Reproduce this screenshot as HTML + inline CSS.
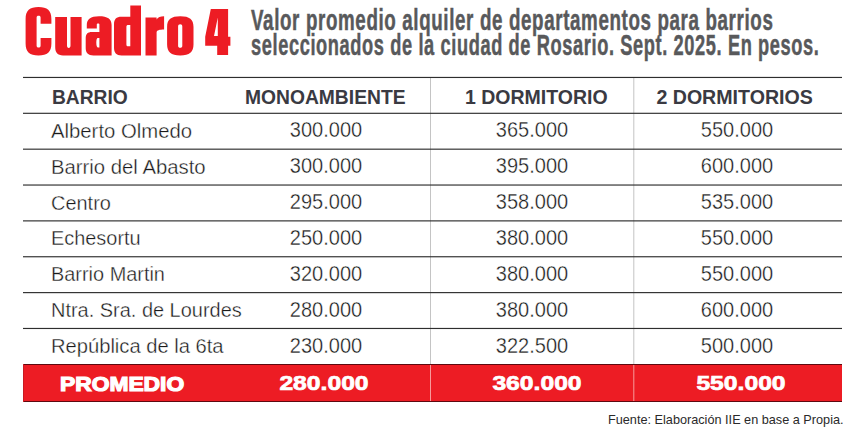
<!DOCTYPE html>
<html><head><meta charset="utf-8">
<style>
html,body{margin:0;padding:0;background:#fff;}
body{width:867px;height:436px;position:relative;overflow:hidden;font-family:"Liberation Sans",sans-serif;}
.a{position:absolute;white-space:nowrap;line-height:1;}
.sub{left:251px;font-size:30px;font-weight:bold;color:#58595b;transform-origin:0 0;-webkit-text-stroke:0.5px #58595b;letter-spacing:1px;}
.hd{font-size:19.6px;font-weight:bold;color:#3a3a42;}
.nm{font-size:20.5px;color:#1a1a1a;-webkit-text-stroke:0.35px #fff;transform-origin:0 0;transform:scaleX(0.99);}
.num{font-size:21.3px;color:#1a1a1a;-webkit-text-stroke:0.35px #fff;transform:translateX(-50%) scaleX(0.94);}
.pr{font-size:20px;font-weight:bold;color:#fff;-webkit-text-stroke:1.2px #fff;transform-origin:0 0;transform:scaleX(1.14);}
.pn{font-size:20.4px;font-weight:bold;color:#fff;-webkit-text-stroke:0.7px #fff;transform:translateX(-50%) scaleX(1.21);}
.foot{font-size:12.7px;color:#2a2a2a;}
</style></head><body>

<svg width="240" height="64" viewBox="0 0 240 64" style="position:absolute;left:0;top:0">
<g fill="#ed1c24" fill-rule="evenodd">
<path d="M51.4,23.8 L51.4,19 C51.4,10.5 47.3,7.1 38.5,7.1 C29.7,7.1 25.6,10.5 25.6,19 L25.6,43.5 C25.6,52 29.7,55.5 38.5,55.5 C47.3,55.5 51.4,52 51.4,43.5 L51.4,38 L40.6,38 L40.6,45.4 C40.6,46.8 39.9,47.4 38.6,47.4 C37.3,47.4 36.6,46.8 36.6,45.4 L36.6,17.8 C36.6,16.4 37.3,15.8 38.6,15.8 C39.9,15.8 40.6,16.4 40.6,17.8 L40.6,23.8 Z"/>
<path d="M55.2,16.9 L67,16.9 L67,45.6 C67,47.1 67.6,47.9 68.75,47.9 C69.9,47.9 70.5,47.1 70.5,45.6 L70.5,16.9 L81.6,16.9 L81.6,55.4 L63,55.4 C57.5,55.4 55.2,52.5 55.2,47 Z"/>
<path d="M86.8,28.4 L86.8,25 C86.8,19 90.5,16.2 99,16.2 C107.5,16.2 111.6,18.8 111.6,25 L111.6,55.4 L93.5,55.4 C88,55.4 85.7,52.8 85.7,48 L85.7,38.5 C85.7,34 87.5,32 92,32 L99.4,32 L99.4,24.5 C99.4,23.8 99,23.6 98.1,23.6 C97.2,23.6 96.8,23.8 96.8,24.5 L96.8,28.4 Z M99.4,37.9 L97.8,37.9 C96.8,37.9 96.3,39.5 96.3,42.6 C96.3,45.6 96.8,47.4 97.8,47.4 L99.4,47.4 Z"/>
<path d="M130.3,5.6 L141,5.6 L141,55.4 L121.5,55.4 C116.3,55.4 114,52.8 114,47.5 L114,24.5 C114,19.2 116.3,16.8 121.5,16.8 L130.3,16.8 Z M130.3,25.1 L128.2,25.1 C127,25.1 126.4,25.7 126.4,27 L126.4,44.4 C126.4,45.7 127,46.3 128.2,46.3 L130.3,46.3 Z"/>
<path d="M145.5,17.4 L156.6,17.4 L156.6,19.5 C158,17.2 160.3,16.3 164.1,16.3 L164.1,29.5 C159.5,29.5 156.6,30.2 156.6,32.5 L156.6,55.4 L145.5,55.4 Z"/>
<path d="M167.1,27 C167.1,19.5 171,16.3 180.3,16.3 C189.6,16.3 193.5,19.5 193.5,27 L193.5,44.6 C193.5,52.1 189.6,55.5 180.3,55.5 C171,55.5 167.1,52.1 167.1,44.6 Z M178.1,26.4 L178.1,45.7 C178.1,47.1 178.9,47.8 180.2,47.8 C181.5,47.8 182.3,47.1 182.3,45.7 L182.3,26.4 C182.3,25 181.5,24.3 180.2,24.3 C178.9,24.3 178.1,25 178.1,26.4 Z"/>
<path d="M210.8,9.1 L228.1,9.1 L228.1,36.7 L230.4,36.7 L230.4,45.7 L228.1,45.7 L228.1,54.9 L217.2,54.9 L217.2,45.7 L205.2,45.7 L205.2,36.7 Z M217.8,17.5 L214,36.1 L217.8,36.1 Z"/>
</g></svg>

<div class="a sub" style="top:4.5px;transform:scaleX(0.6258)">Valor promedio alquiler de departamentos para barrios</div>
<div class="a sub" style="top:30.2px;transform:scaleX(0.6078)">seleccionados de la ciudad de Rosario. Sept. 2025. En pesos.</div>
<svg width="867" height="436" style="position:absolute;left:0;top:0">
<rect x="430" y="77" width="1" height="287" fill="#c4c4c4"/>
<rect x="633.3" y="77" width="1" height="287" fill="#c4c4c4"/>
<rect x="23" y="76.88" width="819" height="1.15" fill="#2e2e2e"/>
<rect x="23" y="112.73" width="819" height="1.15" fill="#2e2e2e"/>
<rect x="23" y="148.60" width="819" height="1.15" fill="#2e2e2e"/>
<rect x="23" y="184.46" width="819" height="1.15" fill="#2e2e2e"/>
<rect x="23" y="220.31" width="819" height="1.15" fill="#2e2e2e"/>
<rect x="23" y="256.18" width="819" height="1.15" fill="#2e2e2e"/>
<rect x="23" y="292.04" width="819" height="1.15" fill="#2e2e2e"/>
<rect x="23" y="327.89" width="819" height="1.15" fill="#2e2e2e"/>
<rect x="23.5" y="364.5" width="818.5" height="36.5" fill="#ed1c24"/>
<rect x="23" y="364" width="819" height="1" fill="#5e0a10"/>
<rect x="23" y="401" width="819" height="1" fill="#5e0a10"/>
<rect x="23" y="364" width="1" height="38" fill="#c81a22"/>
<rect x="430" y="365" width="1" height="36" fill="#f79a9a"/>
<rect x="633.3" y="365" width="1" height="36" fill="#f79a9a"/>
</svg>
<div class="a hd" style="left:52px;top:88.41px;transform-origin:0 0;transform:scaleX(0.98)">BARRIO</div>
<div class="a hd" style="left:245px;top:88.41px;transform-origin:0 0;transform:scaleX(0.983)">MONOAMBIENTE</div>
<div class="a hd" style="left:465px;top:88.41px;transform-origin:0 0;transform:scaleX(0.995)">1 DORMITORIO</div>
<div class="a hd" style="left:656.4px;top:88.41px;transform-origin:0 0;transform:scaleX(1.0)">2 DORMITORIOS</div>
<div class="a nm" style="left:51px;top:120.95px;transform:scaleX(0.99)">Alberto Olmedo</div>
<div class="a num" style="left:325.8px;top:119.87px">300.000</div>
<div class="a num" style="left:532.3px;top:119.87px">365.000</div>
<div class="a num" style="left:737.3px;top:119.87px">550.000</div>
<div class="a nm" style="left:51px;top:156.78px;transform:scaleX(0.99)">Barrio del Abasto</div>
<div class="a num" style="left:325.8px;top:155.84px">300.000</div>
<div class="a num" style="left:532.3px;top:155.84px">395.000</div>
<div class="a num" style="left:737.3px;top:155.84px">600.000</div>
<div class="a nm" style="left:51px;top:192.61px;transform:scaleX(0.973)">Centro</div>
<div class="a num" style="left:325.8px;top:191.81px">295.000</div>
<div class="a num" style="left:532.3px;top:191.81px">358.000</div>
<div class="a num" style="left:737.3px;top:191.81px">535.000</div>
<div class="a nm" style="left:51px;top:228.44px;transform:scaleX(0.971)">Echesortu</div>
<div class="a num" style="left:325.8px;top:227.78px">250.000</div>
<div class="a num" style="left:532.3px;top:227.78px">380.000</div>
<div class="a num" style="left:737.3px;top:227.78px">550.000</div>
<div class="a nm" style="left:51px;top:264.27px;transform:scaleX(0.971)">Barrio Martin</div>
<div class="a num" style="left:325.8px;top:263.75px">320.000</div>
<div class="a num" style="left:532.3px;top:263.75px">380.000</div>
<div class="a num" style="left:737.3px;top:263.75px">550.000</div>
<div class="a nm" style="left:51px;top:300.10px;transform:scaleX(0.973)">Ntra. Sra. de Lourdes</div>
<div class="a num" style="left:325.8px;top:299.72px">280.000</div>
<div class="a num" style="left:532.3px;top:299.72px">380.000</div>
<div class="a num" style="left:737.3px;top:299.72px">600.000</div>
<div class="a nm" style="left:51px;top:335.93px;transform:scaleX(0.983)">República de la 6ta</div>
<div class="a num" style="left:325.8px;top:335.69px">230.000</div>
<div class="a num" style="left:532.3px;top:335.69px">322.500</div>
<div class="a num" style="left:737.3px;top:335.69px">500.000</div>
<div class="a pr" style="left:59.8px;top:374.27px">PROMEDIO</div>
<div class="a pn" style="left:324.3px;top:372.73px">280.000</div>
<div class="a pn" style="left:536.5px;top:372.73px">360.000</div>
<div class="a pn" style="left:740.6px;top:372.73px">550.000</div>
<div class="a foot" style="left:608px;top:413.55px">Fuente: Elaboración IIE en base a Propia.</div>
</body></html>
